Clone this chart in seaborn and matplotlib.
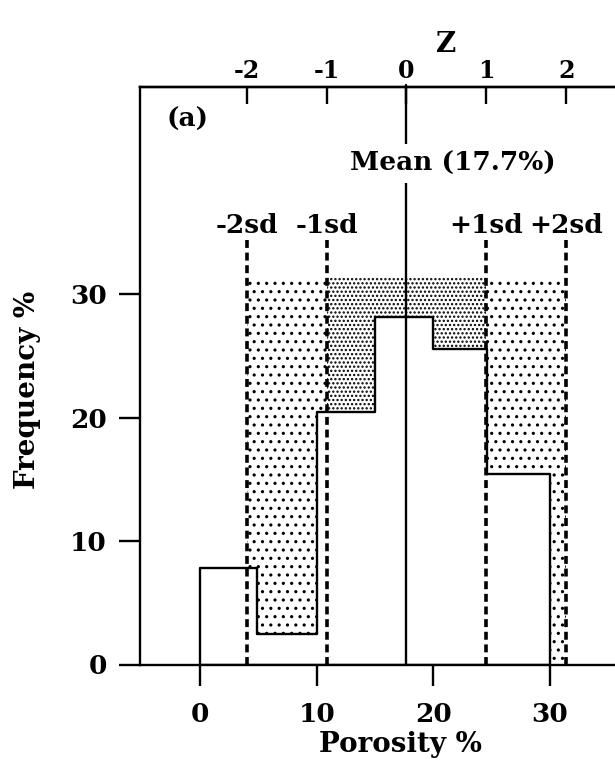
import numpy as np
import matplotlib
matplotlib.use("Agg")
import matplotlib.pyplot as plt
import seaborn as sns

# Porosity histogram (bin edges in % porosity, frequency in %)
bin_edges = [0, 4.9, 10, 15, 20, 24.6, 30]
freq = [7.8, 2.5, 20.5, 28.2, 25.6, 15.4]
mean_por = 17.7
sd_por = 6.85
sd_mult = [-2, -1, 1, 2]
sd_labels = ["-2sd", "-1sd", "+1sd", "+2sd"]
z_ticks = [-2, -1, 0, 1, 2]
x_ticks = [0, 10, 20, 30]
y_ticks = [0, 10, 20, 30]
shade_top = 31.4

sns.set_style("ticks")
plt.rcParams["font.family"] = ["DejaVu Serif"]
plt.rcParams["font.weight"] = "bold"
plt.rcParams["axes.unicode_minus"] = False
for key in ["text.color", "axes.labelcolor", "xtick.color", "ytick.color",
            "axes.edgecolor"]:
    plt.rcParams[key] = "black"

W, H = 615, 765
fig = plt.figure(figsize=(W / 100, H / 100), dpi=100)
ax = fig.add_axes([140 / W, (H - 664.5) / H, (W - 140) / W, (664.5 - 87) / H])

LW = 1.7
FS = 19
centers = [(a + b) / 2 for a, b in zip(bin_edges[:-1], bin_edges[1:])]
sns.histplot(x=centers, weights=freq, bins=bin_edges, element="step",
             fill=True, color="black", facecolor="none", edgecolor="black",
             linewidth=LW, ax=ax, zorder=3)


def floor_steps(a, b):
    pts = [a] + [e for e in bin_edges if a < e < b] + [b]
    hts = []
    for p in pts:
        i = int(np.searchsorted(bin_edges, p, side="right")) - 1
        hts.append(freq[i] if 0 <= i < len(freq) else 0.0)
    return pts, hts


sd_x = {k: mean_por + k * sd_por for k in sd_mult}

# stippled areas: coarse dots beyond 1 sd, fine dots within 1 sd
regions = [(sd_x[-2], sd_x[-1], "..", 1.1), (sd_x[-1], sd_x[1], "....", 1.1),
           (sd_x[1], sd_x[2], "..", 1.1)]
for a, b, hatch, hlw in regions:
    xs, lo = floor_steps(a, b)
    with plt.rc_context({"hatch.linewidth": hlw}):
        ax.fill_between(xs, lo, shade_top, step="post", facecolor="none",
                        edgecolor="black", hatch=hatch, linewidth=0, zorder=2)

# standard deviation markers
for k, lab in zip(sd_mult, sd_labels):
    x = sd_x[k]
    ax.plot([x, x], [0, 34.4], color="black", lw=2.6,
            linestyle=(0, (2.2, 1.3)), zorder=4)
    ax.text(x, 35.6, lab, ha="center", va="center", fontsize=FS,
            fontweight="bold")

# mean line
ax.plot([mean_por, mean_por], [0, 47], color="black", lw=LW, zorder=4,
        clip_on=False)
ax.text(21.7, 40.6, "Mean (17.7%)", ha="center", va="center", fontsize=FS,
        fontweight="bold", zorder=5,
        bbox=dict(facecolor="white", edgecolor="none", pad=5))

ax.text(-1.1, 44.2, "(a)", ha="center", va="center", fontsize=FS,
        fontweight="bold")

ax.set_xlim(-5.14, 35.57)
ax.set_ylim(0, 46.8)
ax.set_xticks(x_ticks)
ax.set_yticks(y_ticks)
ax.tick_params(axis="both", direction="out", length=15, width=LW,
               labelsize=FS, color="black")
ax.tick_params(axis="x", pad=12)
ax.tick_params(axis="y", pad=9)
for lbl in ax.get_xticklabels() + ax.get_yticklabels():
    lbl.set_fontweight("bold")

for side in ["left", "bottom", "top"]:
    ax.spines[side].set_linewidth(LW)
    ax.spines[side].set_color("black")
ax.spines["right"].set_visible(False)

ax.set_xlabel("Porosity %", fontsize=20, fontweight="bold")
ax.set_ylabel("Frequency %", fontsize=20, fontweight="bold")
ax.xaxis.set_label_coords((400 - 140) / 475, (664.5 - 745) / 577.5)
ax.xaxis.label.set_va("center")
ax.yaxis.set_label_coords((28 - 140) / 475, (664.5 - 390) / 577.5)
ax.yaxis.label.set_va("center")

# standardised (Z) scale along the top
secax = ax.secondary_xaxis(
    "top",
    functions=(lambda x: (x - mean_por) / sd_por,
               lambda z: z * sd_por + mean_por))
secax.set_xticks(z_ticks)
secax.tick_params(direction="in", length=12, width=LW, labelsize=17, pad=3,
                  color="black", labelcolor="black")
for lbl in secax.get_xticklabels():
    lbl.set_fontweight("bold")
secax.spines["top"].set_linewidth(LW)
fig.text(446 / W, 1 - 44 / H, "Z", ha="center", va="center", fontsize=20,
         fontweight="bold")

fig.savefig("out.png", dpi=100)
